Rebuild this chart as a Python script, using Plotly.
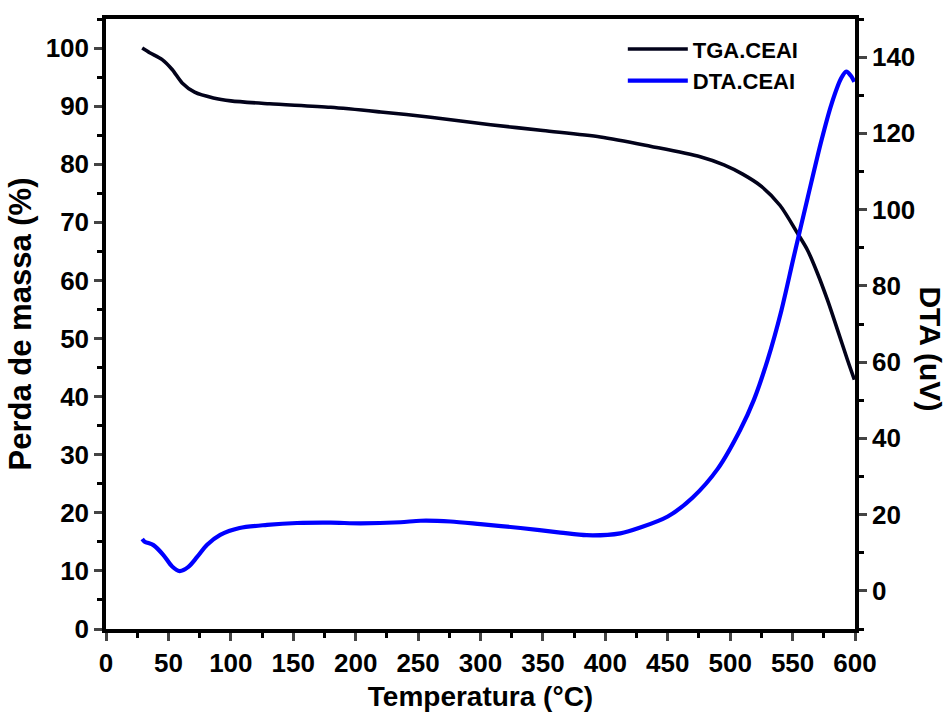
import plotly.graph_objects as go

# TGA data (temperature °C, mass %)
tga_temp = [29, 35, 45, 53, 61, 71, 86, 100, 131, 180, 220, 260, 308, 350, 396,
            436, 476, 495, 510, 525, 540, 554, 562, 570, 578, 586, 594, 599.5]
tga_mass = [100, 99.2, 98.0, 96.3, 94.0, 92.4, 91.4, 90.9, 90.4, 89.8, 89.0, 88.1, 86.8, 85.8, 84.7,
            83.1, 81.3, 79.9, 78.3, 76.2, 72.9, 68.1, 65.2, 61.2, 56.6, 51.5, 46.3, 42.9]

# DTA data (temperature °C, uV)
dta_temp = [29, 31, 38, 46, 53, 59, 66, 73, 81, 91.5, 107, 129, 153, 180, 204, 236, 252, 276,
            300, 332, 364, 385, 412, 428, 450, 470, 490, 508, 519, 530, 541, 551, 562, 573,
            581, 589, 593, 597, 599.5]
dta_uv = [13.6, 12.9, 12.0, 9.4, 6.4, 5.2, 6.3, 8.9, 12.1, 14.7, 16.5, 17.3, 17.8, 17.9, 17.7, 18.0,
          18.4, 18.2, 17.5, 16.5, 15.3, 14.6, 15.1, 16.6, 19.5, 24.5, 32.0, 42.2, 50.1, 60.6, 73.5,
          87.7, 103.0, 118.0, 127.5, 134.5, 136.2, 135.0, 133.5]

x_ticks = list(range(0, 601, 50))
y1_ticks = list(range(0, 101, 10))
y2_ticks = list(range(0, 141, 20))

FONT = "Liberation Sans, Arial, sans-serif"

fig = go.Figure()
fig.add_trace(go.Scatter(x=tga_temp, y=tga_mass, name="TGA.CEAI", mode="lines",
                         line=dict(color="#02021a", width=3.6, shape="spline", smoothing=0.8),
                         yaxis="y"))
fig.add_trace(go.Scatter(x=dta_temp, y=dta_uv, name="DTA.CEAI", mode="lines",
                         line=dict(color="#0000ff", width=4.2, shape="spline", smoothing=0.8),
                         yaxis="y2"))

tickfont = dict(family=FONT, size=26, color="black", weight="bold")

fig.update_layout(
    width=948, height=715,
    margin=dict(l=106, r=93, t=19, b=86),
    paper_bgcolor="white", plot_bgcolor="white",
    showlegend=True,
    legend=dict(x=0.69, y=0.985, xanchor="left", yanchor="top",
                font=dict(family=FONT, size=22, color="black", weight="bold"),
                bgcolor="rgba(0,0,0,0)", itemwidth=60, tracegroupgap=0),
    xaxis=dict(range=[0, 600], tickvals=x_ticks, ticks="outside", ticklen=8, tickwidth=3,
               showline=True, linewidth=3.5, linecolor="black", mirror=True, automargin=False,
               showgrid=False, zeroline=False, tickfont=tickfont,
               minor=dict(dtick=25, tick0=0, ticks="outside", ticklen=5, tickwidth=2.5, tickcolor="black"),
               title=dict(text="Temperatura (°C)", standoff=10,
                          font=dict(family=FONT, size=28, color="black", weight="bold"))),
    yaxis=dict(range=[0, 105], tickvals=y1_ticks, ticks="outside", ticklen=8, tickwidth=3,
               showline=True, linewidth=3.5, linecolor="black", automargin=False,
               showgrid=False, zeroline=False, tickfont=tickfont,
               minor=dict(dtick=5, tick0=0, ticks="outside", ticklen=5, tickwidth=2.5, tickcolor="black"),
               title=dict(text="Perda de massa (%)", standoff=6,
                          font=dict(family=FONT, size=31, color="black", weight="bold"))),
    yaxis2=dict(range=[-10, 150], tickvals=y2_ticks, ticks="outside", ticklen=8, tickwidth=3,
                overlaying="y", side="right", automargin=False,
                showline=True, linewidth=3.5, linecolor="black",
                showgrid=False, zeroline=False, tickfont=tickfont,
                minor=dict(dtick=10, tick0=0, ticks="outside", ticklen=5, tickwidth=2.5, tickcolor="black")),
    annotations=[dict(text="DTA (uV)", textangle=90, xref="paper", yref="paper",
                      x=1.0, xanchor="center", yanchor="middle", xshift=76, y=0.46, showarrow=False,
                      font=dict(family=FONT, size=30, color="black", weight="bold"))],
)

fig.write_html("out.html")
